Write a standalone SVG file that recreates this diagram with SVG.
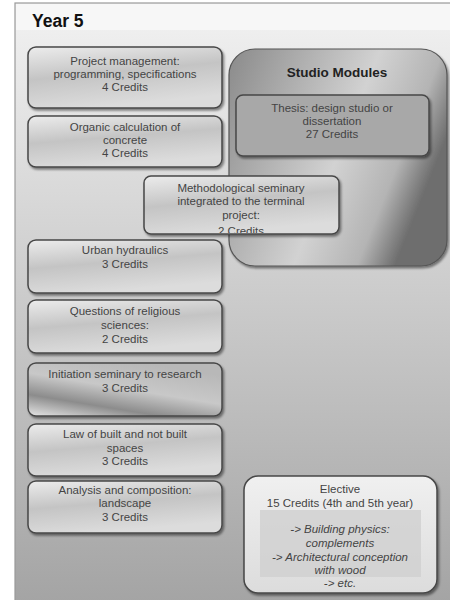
<svg xmlns="http://www.w3.org/2000/svg" width="450" height="600" viewBox="0 0 450 600">
<defs>
<linearGradient id="bg" x1="0" y1="0" x2="0" y2="1">
<stop offset="0" stop-color="#f2f2f2"/>
<stop offset="0.35" stop-color="#d6d6d6"/>
<stop offset="1" stop-color="#a4a4a4"/>
</linearGradient>
<linearGradient id="box" x1="0" y1="0" x2="0.3" y2="1">
<stop offset="0" stop-color="#ececec"/>
<stop offset="0.5" stop-color="#c4c4c4"/>
<stop offset="1" stop-color="#dcdcdc"/>
</linearGradient>
<linearGradient id="boxdark" x1="0" y1="1" x2="0.6" y2="0">
<stop offset="0" stop-color="#e6e6e6"/>
<stop offset="0.3" stop-color="#8c8c8c"/>
<stop offset="0.6" stop-color="#c8c8c8"/>
<stop offset="1" stop-color="#b8b8b8"/>
</linearGradient>
<linearGradient id="studio" x1="0" y1="0" x2="1" y2="0.4">
<stop offset="0" stop-color="#8a8a8a"/>
<stop offset="0.6" stop-color="#d2d2d2"/>
<stop offset="0.85" stop-color="#b4b4b4"/>
<stop offset="1" stop-color="#6e6e6e"/>
</linearGradient>
<linearGradient id="elect" x1="0" y1="0" x2="0" y2="1">
<stop offset="0" stop-color="#f0f0f0"/>
<stop offset="1" stop-color="#dcdcdc"/>
</linearGradient>
<filter id="sh" x="-10%" y="-10%" width="130%" height="140%">
<feDropShadow dx="1.5" dy="2" stdDeviation="1" flood-color="#000" flood-opacity="0.45"/>
</filter>
<clipPath id="mclip"><rect x="144" y="176" width="195" height="57" rx="7"/></clipPath>
</defs>
<style>
.b{fill:url(#box);stroke:#474747;stroke-width:1.5;filter:url(#sh)}
.t{font-family:"Liberation Sans",Arial,sans-serif;font-size:11.5px;fill:#444;text-anchor:middle}
.i{font-style:italic}
</style>
<rect x="0" y="0" width="450" height="600" fill="#ffffff"/>
<rect x="15" y="3" width="440" height="600" fill="url(#bg)" stroke="#9a9a9a" stroke-width="1.2"/>
<rect x="16" y="4" width="434" height="26" fill="#f7f7f7"/>
<text x="32" y="27" font-family="Liberation Sans,Arial,sans-serif" font-size="17.5" font-weight="bold" fill="#111">Year 5</text>

<g id="studio-modules">
<rect x="229" y="49" width="218" height="217" rx="26" fill="url(#studio)" stroke="#555" stroke-width="1.2" filter="url(#sh)"/>
<text x="337" y="77" font-family="Liberation Sans,Arial,sans-serif" font-size="13.5" font-weight="bold" fill="#222" text-anchor="middle">Studio Modules</text>
</g>
<g id="thesis">
<rect class="b" x="236" y="95" width="193" height="61" rx="7" style="fill:#a8a8a8"/>
<text class="t" x="332" y="112">Thesis: design studio or</text>
<text class="t" x="332" y="125">dissertation</text>
<text class="t" x="332" y="138">27 Credits</text>
</g>
<g id="project-management">
<rect class="b" x="28" y="47" width="194" height="61" rx="8"/>
<text class="t" x="125" y="65">Project management:</text>
<text class="t" x="125" y="78">programming, specifications</text>
<text class="t" x="125" y="91">4 Credits</text>
</g>
<g id="organic">
<rect class="b" x="28" y="116" width="194" height="51" rx="8"/>
<text class="t" x="125" y="131">Organic calculation of</text>
<text class="t" x="125" y="144">concrete</text>
<text class="t" x="125" y="157">4 Credits</text>
</g>
<g id="methodological">
<rect class="b" x="144" y="176" width="195" height="58" rx="7"/>
<g clip-path="url(#mclip)">
<text class="t" x="241" y="192">Methodological seminary</text>
<text class="t" x="241" y="205">integrated to the terminal</text>
<text class="t" x="241" y="219">project:</text>
<text class="t" x="241" y="234.5">2 Credits</text>
</g>
</g>
<g id="urban">
<rect class="b" x="28" y="240" width="194" height="53" rx="8"/>
<text class="t" x="125" y="254">Urban hydraulics</text>
<text class="t" x="125" y="268">3 Credits</text>
</g>
<g id="religious">
<rect class="b" x="28" y="300" width="194" height="53" rx="8"/>
<text class="t" x="125" y="315">Questions of religious</text>
<text class="t" x="125" y="329">sciences:</text>
<text class="t" x="125" y="343">2 Credits</text>
</g>
<g id="initiation">
<rect class="b" x="28" y="363" width="194" height="53" rx="8" style="fill:url(#boxdark)"/>
<text class="t" x="125" y="378">Initiation seminary to research</text>
<text class="t" x="125" y="392">3 Credits</text>
</g>
<g id="law">
<rect class="b" x="28" y="424" width="194" height="52" rx="8"/>
<text class="t" x="125" y="438">Law of built and not built</text>
<text class="t" x="125" y="452">spaces</text>
<text class="t" x="125" y="465">3 Credits</text>
</g>
<g id="analysis">
<rect class="b" x="28" y="481" width="194" height="52" rx="8"/>
<text class="t" x="125" y="494">Analysis and composition:</text>
<text class="t" x="125" y="507">landscape</text>
<text class="t" x="125" y="521">3 Credits</text>
</g>
<g id="elective">
<rect x="244" y="476" width="193" height="117" rx="14" fill="url(#elect)" stroke="#474747" stroke-width="1.5" filter="url(#sh)"/>
<rect x="260" y="510" width="161" height="67" fill="#cfcfcf" opacity="0.8"/>
<text class="t" x="340" y="493">Elective</text>
<text class="t" x="340" y="507">15 Credits (4th and 5th year)</text>
<text class="t i" x="340" y="533">-&gt; Building physics:</text>
<text class="t i" x="340" y="547">complements</text>
<text class="t i" x="340" y="561">-&gt; Architectural conception</text>
<text class="t i" x="340" y="574">with wood</text>
<text class="t i" x="340" y="587">-&gt; etc.</text>
</g>
</svg>
